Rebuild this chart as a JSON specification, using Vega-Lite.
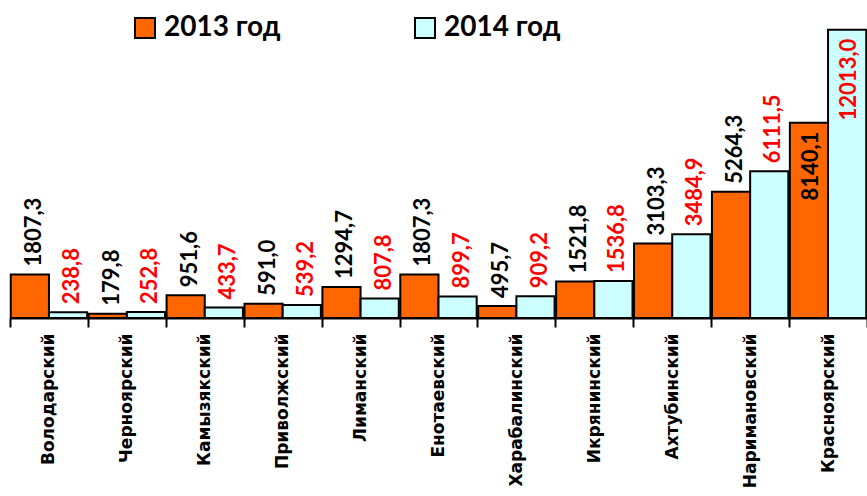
{
  "$schema": "https://vega.github.io/schema/vega-lite/v6.json",
  "width": 857,
  "height": 318,
  "autosize": {"type": "none"},
  "padding": {"left": 10, "top": 0, "right": 0, "bottom": 178},
  "background": "white",
  "config": {"view": {"stroke": null}},
  "data": {
    "values": [
      {"district": "Володарский", "year": "2013 год", "value": 1807.3, "label": "1807,3"},
      {"district": "Володарский", "year": "2014 год", "value": 238.8, "label": "238,8"},
      {"district": "Черноярский", "year": "2013 год", "value": 179.8, "label": "179,8"},
      {"district": "Черноярский", "year": "2014 год", "value": 252.8, "label": "252,8"},
      {"district": "Камызякский", "year": "2013 год", "value": 951.6, "label": "951,6"},
      {"district": "Камызякский", "year": "2014 год", "value": 433.7, "label": "433,7"},
      {"district": "Приволжский", "year": "2013 год", "value": 591.0, "label": "591,0"},
      {"district": "Приволжский", "year": "2014 год", "value": 539.2, "label": "539,2"},
      {"district": "Лиманский", "year": "2013 год", "value": 1294.7, "label": "1294,7"},
      {"district": "Лиманский", "year": "2014 год", "value": 807.8, "label": "807,8"},
      {"district": "Енотаевский", "year": "2013 год", "value": 1807.3, "label": "1807,3"},
      {"district": "Енотаевский", "year": "2014 год", "value": 899.7, "label": "899,7"},
      {"district": "Харабалинский", "year": "2013 год", "value": 495.7, "label": "495,7"},
      {"district": "Харабалинский", "year": "2014 год", "value": 909.2, "label": "909,2"},
      {"district": "Икрянинский", "year": "2013 год", "value": 1521.8, "label": "1521,8"},
      {"district": "Икрянинский", "year": "2014 год", "value": 1536.8, "label": "1536,8"},
      {"district": "Ахтубинский", "year": "2013 год", "value": 3103.3, "label": "3103,3"},
      {"district": "Ахтубинский", "year": "2014 год", "value": 3484.9, "label": "3484,9"},
      {"district": "Наримановский", "year": "2013 год", "value": 5264.3, "label": "5264,3"},
      {"district": "Наримановский", "year": "2014 год", "value": 6111.5, "label": "6111,5"},
      {"district": "Красноярский", "year": "2013 год", "value": 8140.1, "label": "8140,1"},
      {"district": "Красноярский", "year": "2014 год", "value": 12013.0, "label": "12013,0"}
    ]
  },
  "encoding": {
    "x": {
      "field": "district",
      "type": "nominal",
      "sort": null,
      "title": null,
      "scale": {"paddingInner": 0, "paddingOuter": 0},
      "axis": {
        "labelAngle": -90,
        "labelFont": "DejaVu Sans",
        "labelFontWeight": "bold",
        "labelFontSize": 17,
        "labelColor": "black",
        "labelPadding": 6,
        "labelLimit": 300,
        "tickBand": "extent",
        "tickSize": 9,
        "tickWidth": 2,
        "tickColor": "black",
        "domainColor": "black",
        "domainWidth": 2,
        "grid": false
      }
    },
    "xOffset": {"field": "year", "type": "nominal", "scale": {"paddingInner": 0, "paddingOuter": 0.02}},
    "y": {"field": "value", "type": "quantitative", "scale": {"domain": [0, 13250]}, "axis": null}
  },
  "layer": [
    {
      "mark": {"type": "bar", "stroke": "black", "strokeWidth": 2},
      "encoding": {
        "color": {
          "field": "year",
          "type": "nominal",
          "scale": {"domain": ["2013 год", "2014 год"], "range": ["#FF6600", "#CCFFFF"]},
          "legend": {
            "orient": "none",
            "legendX": 121,
            "legendY": 14,
            "direction": "horizontal",
            "title": null,
            "symbolType": "square",
            "symbolSize": 400,
            "symbolStrokeColor": "black",
            "symbolStrokeWidth": 2,
            "labelFont": "Lato",
            "labelFontWeight": "bold",
            "labelFontSize": 28,
            "labelColor": "black",
            "labelOffset": 5,
            "columnPadding": 130,
            "padding": 0
          }
        }
      }
    },
    {
      "transform": [{"filter": "datum.value < 8000"}],
      "mark": {"type": "text", "angle": 270, "align": "left", "baseline": "middle", "dx": 8, "dy": 4, "font": "Lato", "fontWeight": "bold", "fontSize": 22},
      "encoding": {
        "text": {"field": "label"},
        "color": {"condition": {"test": "datum.year == '2013 год'", "value": "black"}, "value": "#FF0000"}
      }
    },
    {
      "transform": [{"filter": "datum.value >= 8000"}],
      "mark": {"type": "text", "angle": 270, "align": "right", "baseline": "middle", "dx": -9, "dy": 2, "font": "Lato", "fontWeight": "bold", "fontSize": 22},
      "encoding": {
        "text": {"field": "label"},
        "color": {"condition": {"test": "datum.year == '2013 год'", "value": "black"}, "value": "#FF0000"}
      }
    }
  ]
}
